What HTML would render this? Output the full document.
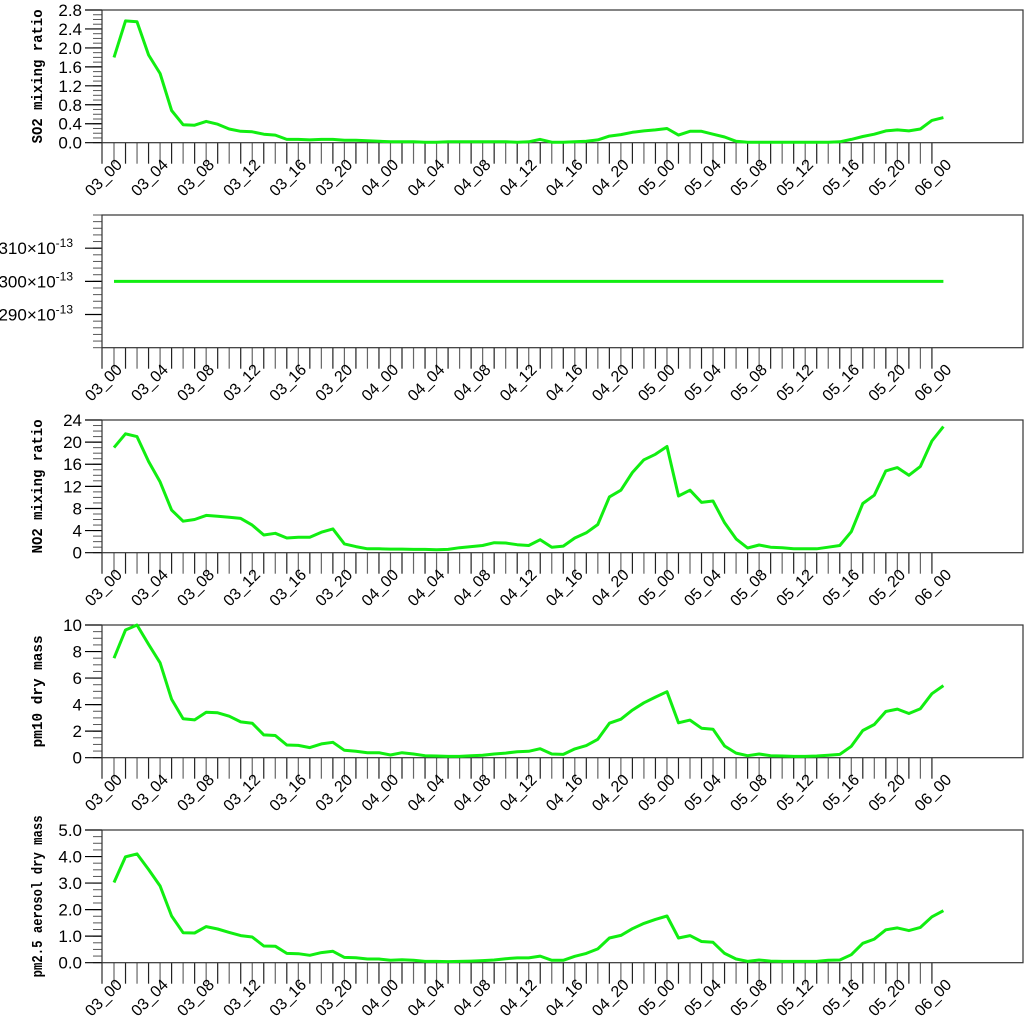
<!DOCTYPE html>
<html><head><meta charset="utf-8">
<style>
html,body{margin:0;padding:0;background:#fff;}
svg{display:block;}
text{font-family:"Liberation Sans",sans-serif;}
.yt{font-family:"Liberation Mono",monospace;font-weight:bold;}
</style></head>
<body>
<svg id="chart" width="1024" height="1024" viewBox="0 0 1024 1024" xmlns="http://www.w3.org/2000/svg"></svg>
<script>
const so2Values=[1.80,2.57,2.55,1.85,1.46,0.68,0.38,0.37,0.45,0.39,0.29,0.24,0.23,0.18,0.16,0.07,0.07,0.06,0.07,0.07,0.05,0.05,0.04,0.03,0.02,0.02,0.02,0.01,0.01,0.02,0.02,0.02,0.02,0.02,0.02,0.01,0.02,0.07,0.01,0.01,0.02,0.03,0.06,0.14,0.17,0.22,0.25,0.27,0.30,0.16,0.24,0.24,0.18,0.12,0.03,0.01,0.01,0.01,0.01,0.01,0.01,0.01,0.01,0.02,0.07,0.13,0.18,0.25,0.27,0.25,0.29,0.47,0.53];
const constValues=new Array(73).fill(300);
const no2Values=[19.0,21.5,21.0,16.5,12.8,7.7,5.7,6.0,6.75,6.6,6.4,6.2,5.0,3.2,3.5,2.65,2.8,2.8,3.7,4.3,1.6,1.1,0.7,0.7,0.65,0.65,0.6,0.6,0.55,0.6,0.9,1.1,1.3,1.8,1.75,1.45,1.3,2.35,1.0,1.2,2.65,3.6,5.1,10.1,11.3,14.5,16.8,17.8,19.2,10.25,11.3,9.1,9.35,5.4,2.5,0.85,1.4,1.0,0.9,0.7,0.7,0.7,1.0,1.3,3.8,8.9,10.4,14.8,15.4,14.0,15.6,20.2,22.8];
const pm10Values=[7.5,9.62,10.0,8.54,7.15,4.4,2.93,2.85,3.43,3.38,3.13,2.70,2.60,1.72,1.67,0.96,0.93,0.76,1.04,1.16,0.56,0.48,0.38,0.38,0.2,0.38,0.28,0.15,0.13,0.1,0.1,0.15,0.18,0.28,0.35,0.45,0.48,0.68,0.28,0.25,0.66,0.91,1.39,2.6,2.9,3.59,4.14,4.57,4.97,2.63,2.83,2.22,2.15,0.88,0.35,0.15,0.28,0.15,0.13,0.1,0.1,0.13,0.18,0.25,0.86,2.05,2.5,3.48,3.66,3.33,3.69,4.82,5.43];
const pm25Values=[3.02,3.99,4.10,3.51,2.89,1.76,1.13,1.12,1.36,1.27,1.14,1.02,0.97,0.63,0.62,0.35,0.34,0.28,0.38,0.43,0.2,0.19,0.14,0.14,0.09,0.11,0.09,0.05,0.05,0.04,0.05,0.06,0.08,0.1,0.15,0.18,0.18,0.25,0.09,0.09,0.24,0.35,0.52,0.93,1.03,1.28,1.48,1.63,1.76,0.93,1.02,0.8,0.77,0.35,0.14,0.05,0.1,0.06,0.05,0.05,0.05,0.05,0.09,0.1,0.3,0.73,0.89,1.24,1.31,1.21,1.33,1.73,1.96];
const xTickLabels=["03_00","03_04","03_08","03_12","03_16","03_20","04_00","04_04","04_08","04_12","04_16","04_20","05_00","05_04","05_08","05_12","05_16","05_20","06_00"];
const so2Ticks=["0.0","0.4","0.8","1.2","1.6","2.0","2.4","2.8"];
const no2Ticks=["0","4","8","12","16","20","24"];
const pm10Ticks=["0","2","4","6","8","10"];
const pm25Ticks=["0.0","1.0","2.0","3.0","4.0","5.0"];
const constTicks=["290","300","310"];

const svg=document.getElementById('chart');
const NS="http://www.w3.org/2000/svg";
const X0=114, DX=11.52, LEFT=102, RIGHT=1023, H=132.7;
function mk(tag,attrs,parent){const e=document.createElementNS(NS,tag);for(const k in attrs)e.setAttribute(k,attrs[k]);(parent||svg).appendChild(e);return e;}
function xScale(h){return X0+DX*h;}

const panels=[
 {name:'so2',top:10,min:0,max:2.8,major:0.4,minor:0.1,ticks:so2Ticks,vals:so2Values,title:'SO2 mixing ratio',tlen:134},
 {name:'const',top:215,min:280,max:320,major:10,minor:2,ticks:constTicks,tickStart:290,vals:constValues,title:null},
 {name:'no2',top:420,min:0,max:24,major:4,minor:1,ticks:no2Ticks,vals:no2Values,title:'NO2 mixing ratio',tlen:134},
 {name:'pm10',top:625,min:0,max:10,major:2,minor:0.5,ticks:pm10Ticks,vals:pm10Values,title:'pm10 dry mass',tlen:112},
 {name:'pm25',top:830,min:0,max:5,major:1,minor:0.25,ticks:pm25Ticks,vals:pm25Values,title:'pm2.5 aerosol dry mass',tlen:162}
];

panels.forEach(p=>{
  const g=mk('g',{});
  
  
  const bottom=p.top+H;
  const yScale=v=>bottom-(v-p.min)/(p.max-p.min)*H;
  const nMinor=Math.round((p.max-p.min)/p.minor);
  for(let i=0;i<=nMinor;i++){
    const y=yScale(p.min+i*p.minor);
    const t=mk('line',{x1:93,x2:LEFT,y1:y,y2:y,stroke:'#555','stroke-width':1},g);
    
    
  }
  const start=p.tickStart!==undefined?p.tickStart:p.min;
  p.ticks.forEach((lab,i)=>{
    const v=start+i*p.major, y=yScale(v);
    const t=mk('line',{x1:85,x2:LEFT,y1:y,y2:y,stroke:'#000','stroke-width':1.2},g);
    
    
    if(p.name==='const'){
      const tx=mk('text',{x:73,y:y+6,'text-anchor':'end','font-size':17,fill:'#000'},g);
      
      
      tx.textContent=lab+'\u00D710';
      const sp=mk('tspan',{dy:-7,'font-size':12},tx);
      sp.textContent='-13';
    }else{
      const tx=mk('text',{x:82,y:y+6,'text-anchor':'end','font-size':17,fill:'#000'},g);
      
      
      tx.textContent=lab;
    }
  });
  const xt=mk('line',{x1:LEFT,x2:LEFT,y1:bottom,y2:bottom+21,stroke:'#000','stroke-width':1},g);
  
  
  for(let h=0;h<72;h++){
    const x=xScale(h);
    const t=mk('line',{x1:x,x2:x,y1:bottom,y2:bottom+21,stroke:h%2?'#222':'#666','stroke-width':1.2},g);
    
    
  }
  xTickLabels.forEach((lab,i)=>{
    const x=xScale(i*4)+9, y=bottom+23;
    const tx=mk('text',{x:x,y:y,'text-anchor':'end','font-size':16,fill:'#000',transform:`rotate(-45 ${x} ${y})`},g);
    
    
    tx.textContent=lab;
  });
  const fr=mk('rect',{x:LEFT,y:p.top,width:RIGHT-LEFT,height:H,fill:'none',stroke:'#333','stroke-width':1.2},g);
  
  
  const pts=p.vals.map((v,h)=>xScale(h).toFixed(1)+','+yScale(v).toFixed(1)).join(' ');
  const pl=mk('polyline',{points:pts,fill:'none',stroke:'#11ee11','stroke-width':3,'stroke-linejoin':'round'},g);
  
  
  if(p.title){
    const cy=p.top+H/2, cx=42;
    const tt=mk('text',{x:cx,y:cy,'text-anchor':'middle','font-size':15,fill:'#000','class':'yt',textLength:p.tlen,lengthAdjust:'spacingAndGlyphs',transform:`rotate(-90 ${cx} ${cy})`},g);
    
    
    tt.textContent=p.title;
  }
});
</script>
</body></html>
